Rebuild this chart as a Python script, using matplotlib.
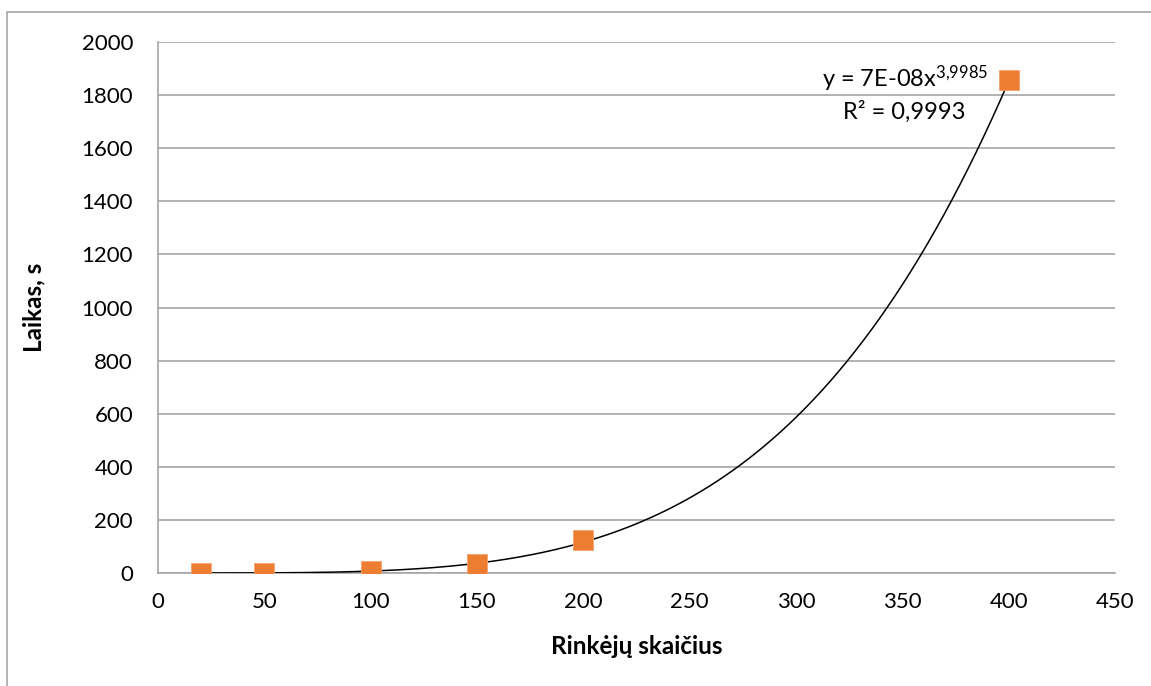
import numpy as np
import matplotlib.pyplot as plt
from matplotlib.patches import Rectangle

# collectors count vs. run time
collectors = [20, 50, 100, 150, 200, 400]
time_s = [0.3, 1.5, 8, 34, 126, 1858]

# power trend line y = a * x^b
trend_a = 7.3e-08
trend_b = 3.9985
trend_r2 = '0,9993'

x_ticks = [0, 50, 100, 150, 200, 250, 300, 350, 400, 450]
y_ticks = [0, 200, 400, 600, 800, 1000, 1200, 1400, 1600, 1800, 2000]

plt.rcParams['font.family'] = ['Lato', 'DejaVu Sans']
plt.rcParams['mathtext.fontset'] = 'custom'
plt.rcParams['mathtext.rm'] = 'Lato'
plt.rcParams['mathtext.it'] = 'Lato'

fig = plt.figure(figsize=(11.51, 6.86), dpi=100)
ax = fig.add_axes([158 / 1151, 1 - 573 / 686, (1115 - 158) / 1151, (573 - 42) / 686])

# outer chart frame
fig.patches.append(Rectangle((7 / 1151, -0.1), 1.2, 1 - 12 / 686 + 0.1, transform=fig.transFigure,
                             fill=False, edgecolor='#a6a6a6', linewidth=1.2))

grid_c = '#a6a6a6'
ax.set_xlim(0, 450)
ax.set_ylim(0, 2000)
ax.set_xticks(x_ticks)
ax.set_yticks(y_ticks)
ax.yaxis.grid(True, color=grid_c, linewidth=1.2)
ax.set_axisbelow(True)
for side in ['top', 'right']:
    ax.spines[side].set_visible(False)
for side in ['left', 'bottom']:
    ax.spines[side].set_color(grid_c)
    ax.spines[side].set_linewidth(1.2)
ax.tick_params(length=0, labelsize=16, pad=14)
ax.tick_params(axis='y', pad=18)

xs = np.linspace(min(collectors), max(collectors), 300)
ax.plot(xs, trend_a * xs ** trend_b, color='black', linewidth=1.1, zorder=3)
ax.plot(collectors, time_s, linestyle='none', marker='s', markersize=14.5,
        color='#ed7d31', markeredgecolor='#f4a36e', markeredgewidth=0.6, zorder=4)

coef = '{:.0E}'.format(trend_a)
expo = '{:.4f}'.format(trend_b).replace('.', '{,}')
ax.text(351.5, 1860, 'y = ' + coef + 'x$^{\\mathrm{' + expo + '}}$',
        fontsize=17, ha='center', va='center')
ax.text(351, 1736, 'R² = ' + trend_r2, fontsize=17, ha='center', va='center')

ax.set_xlabel('Rinkėjų skaičius', fontsize=17.5, fontweight='bold', labelpad=16)
ax.set_ylabel('Laikas, s', fontsize=17.5, fontweight='bold', labelpad=26)

fig.savefig('out.png', dpi=100)
